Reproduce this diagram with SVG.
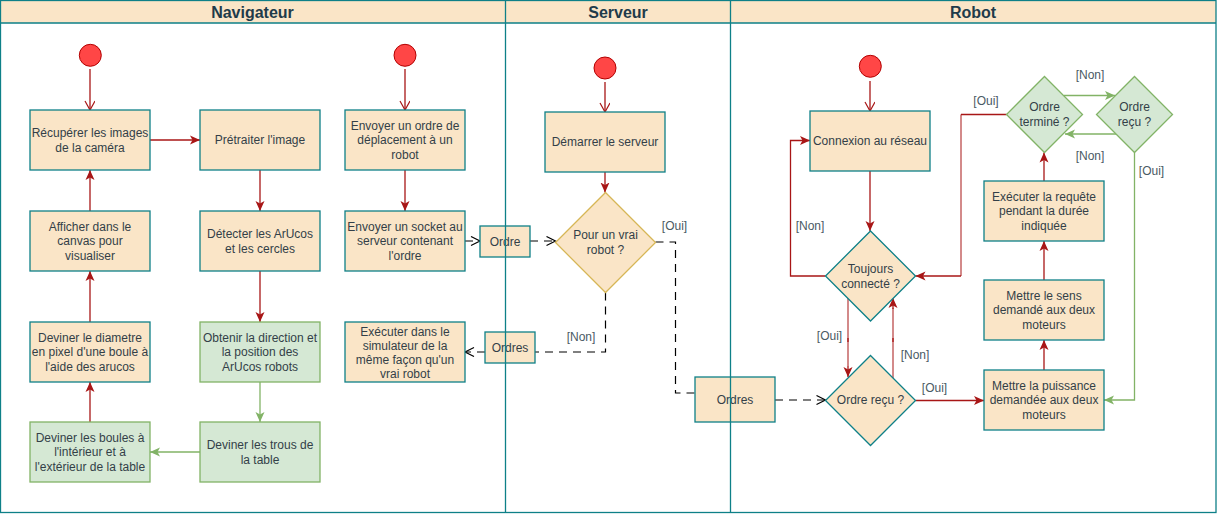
<svg xmlns="http://www.w3.org/2000/svg" width="1218" height="514" viewBox="0 0 1218 514">
<style>
text{font-family:"Liberation Sans",Arial,sans-serif;font-size:12px;fill:#333f48;text-anchor:middle}
.hd{font-size:16px;font-weight:bold;fill:#1f3b4a}
.lb{fill:#4a5a64}
.n{fill:#fae5c7;stroke:#0e8088;stroke-width:1.3}
.g{fill:#d5e8d4;stroke:#82b366;stroke-width:1.3}
.y{fill:#fae5c7;stroke:#d6b656;stroke-width:1.3}
.st{fill:#ff4646;stroke:#b20000;stroke-width:1}
.r{fill:none;stroke:#a81616;stroke-width:1.3}
.rl{fill:none;stroke:#a81616;stroke-opacity:0.5;stroke-width:2}
.gr{fill:none;stroke:#82b366;stroke-width:1.3}
.d{fill:none;stroke:#000;stroke-width:1.2;stroke-dasharray:8 6}
.lane{fill:none;stroke:#0e8088;stroke-width:1.3}
</style>
<defs>
<marker id="aR" markerUnits="userSpaceOnUse" markerWidth="12" markerHeight="12" refX="10" refY="5" orient="auto"><path d="M0,0.5 L10,5 L0,9.5 L2.5,5 z" fill="#a81616"/></marker>
<marker id="aG" markerUnits="userSpaceOnUse" markerWidth="12" markerHeight="12" refX="10" refY="5" orient="auto"><path d="M0,0.5 L10,5 L0,9.5 L2.5,5 z" fill="#82b366"/></marker>
<marker id="oR" markerUnits="userSpaceOnUse" markerWidth="12" markerHeight="12" refX="10" refY="5" orient="auto"><path d="M1,0 L10,5 L1,10" fill="none" stroke="#a81616" stroke-width="1.2"/></marker>
<marker id="oK" markerUnits="userSpaceOnUse" markerWidth="12" markerHeight="12" refX="10" refY="5" orient="auto"><path d="M1,0.5 L10,5 L1,9.5" fill="none" stroke="#000" stroke-width="1.2"/></marker>
</defs>
<rect width="1218" height="514" fill="#fff"/>
<g id="lanes-bg">
<rect x="0.5" y="0.5" width="1215.5" height="22.5" fill="#fae5c7"/>
<text class="hd" x="252.5" y="17.5">Navigateur</text>
<text class="hd" x="618" y="17.5">Serveur</text>
<text class="hd" x="973" y="17.5">Robot</text>
</g>
<g id="connectors">
<path class="r" d="M90,69 V110" marker-end="url(#oR)"/>
<path class="r" d="M150,140 H200" marker-end="url(#aR)"/>
<path class="r" d="M260,170 V211" marker-end="url(#aR)"/>
<path class="r" d="M260,271 V322" marker-end="url(#aR)"/>
<path class="gr" d="M260,382 V422" marker-end="url(#aG)"/>
<path class="gr" d="M200,452 H150" marker-end="url(#aG)"/>
<path class="r" d="M90,422 V382" marker-end="url(#aR)"/>
<path class="r" d="M90,322 V271" marker-end="url(#aR)"/>
<path class="r" d="M90,211 V170" marker-end="url(#aR)"/>
<path class="r" d="M405,69 V110" marker-end="url(#oR)"/>
<path class="r" d="M405,170 V211" marker-end="url(#aR)"/>
<path class="d" d="M465,241 H480" marker-end="url(#oK)"/>
<path class="d" d="M530,241 H555.5" marker-end="url(#oK)"/>
<path class="d" d="M655.5,242 H675.5 V393 H695"/>
<path class="d" d="M605.5,292.5 V352 H535"/>
<path class="d" d="M485,352 H465" marker-end="url(#oK)"/>
<path class="r" d="M605,82 V112" marker-end="url(#oR)"/>
<path class="r" d="M605,172 V192.5" marker-end="url(#aR)"/>
<path class="r" d="M870,81 V111" marker-end="url(#oR)"/>
<path class="r" d="M870,171 V231" marker-end="url(#aR)"/>
<path class="r" d="M825.5,276 H790.5 V140.5 H810" marker-end="url(#aR)"/>
<path class="rl" d="M848,298 V366"/>
<path class="r" d="M848,366 V377" marker-end="url(#aR)"/>
<path class="rl" d="M893,378 V308"/>
<path class="r" d="M893,309 V298" marker-end="url(#aR)"/>
<path class="r" d="M848,338 V342 M893,338 V342" stroke-width="2"/>
<path class="d" d="M775,400 H825.5" marker-end="url(#oK)"/>
<path class="r" d="M915.5,400.5 H984" marker-end="url(#aR)"/>
<path class="r" d="M1044,370 V340" marker-end="url(#aR)"/>
<path class="r" d="M1044,280 V241" marker-end="url(#aR)"/>
<path class="r" d="M1044,181 V152.5" marker-end="url(#aR)"/>
<path class="r" d="M1006.5,114.5 H961"/>
<path class="rl" d="M961,114.5 V276"/>
<path class="r" d="M961,276 H915.5" marker-end="url(#aR)"/>
<path class="gr" d="M1064,95.5 H1115" marker-end="url(#aG)"/>
<path class="gr" d="M1116,134 H1065" marker-end="url(#aG)"/>
<path class="gr" d="M1134.5,152.5 V400 H1104" marker-end="url(#aG)"/>
<text class="lb" x="674.5" y="230">[Oui]</text>
<text class="lb" x="581" y="341">[Non]</text>
<text class="lb" x="810" y="230">[Non]</text>
<text class="lb" x="829.5" y="340">[Oui]</text>
<text class="lb" x="915" y="359">[Non]</text>
<text class="lb" x="934.5" y="391.5">[Oui]</text>
<text class="lb" x="986" y="105.3">[Oui]</text>
<text class="lb" x="1090" y="79.3">[Non]</text>
<text class="lb" x="1090" y="160">[Non]</text>
<text class="lb" x="1151.5" y="175">[Oui]</text>
</g>
<g id="start-nav1"><circle class="st" cx="90.3" cy="55.3" r="11"/></g>
<g id="start-nav2"><circle class="st" cx="405" cy="55.3" r="11"/></g>
<g id="start-srv"><circle class="st" cx="605" cy="68" r="11"/></g>
<g id="start-rob"><circle class="st" cx="870.3" cy="66.3" r="11"/></g>
<g id="recuperer"><rect class="n" x="30" y="110" width="120" height="60"/><text x="90" y="137.1">Récupérer les images<tspan x="90" dy="14.4">de la caméra</tspan></text></g>
<g id="pretraiter"><rect class="n" x="200" y="110" width="120" height="60"/><text x="260" y="144.3">Prétraiter l'image</text></g>
<g id="envoyer-ordre"><rect class="n" x="345" y="110" width="120" height="60"/><text x="405" y="129.9">Envoyer un ordre de<tspan x="405" dy="14.4">déplacement à un</tspan><tspan x="405" dy="14.4">robot</tspan></text></g>
<g id="afficher"><rect class="n" x="30" y="211" width="120" height="60"/><text x="90" y="230.9">Afficher dans le<tspan x="90" dy="14.4">canvas pour</tspan><tspan x="90" dy="14.4">visualiser</tspan></text></g>
<g id="detecter"><rect class="n" x="200" y="211" width="120" height="60"/><text x="260" y="238.1">Détecter les ArUcos<tspan x="260" dy="14.4">et les cercles</tspan></text></g>
<g id="envoyer-socket"><rect class="n" x="345" y="211" width="120" height="60"/><text x="405" y="230.9">Envoyer un socket au<tspan x="405" dy="14.4">serveur contenant</tspan><tspan x="405" dy="14.4">l'ordre</tspan></text></g>
<g id="deviner-diametre"><rect class="n" x="30" y="322" width="120" height="60"/><text x="90" y="341.9">Deviner le diametre<tspan x="90" dy="14.4">en pixel d'une boule à</tspan><tspan x="90" dy="14.4">l'aide des arucos</tspan></text></g>
<g id="obtenir"><rect class="g" x="200" y="322" width="120" height="60"/><text x="260" y="341.9">Obtenir la direction et<tspan x="260" dy="14.4">la position des</tspan><tspan x="260" dy="14.4">ArUcos robots</tspan></text></g>
<g id="executer-simu"><rect class="n" x="345" y="322" width="120" height="60"/><text x="405" y="335.5">Exécuter dans le<tspan x="405" dy="14">simulateur de la</tspan><tspan x="405" dy="14">même façon qu'un</tspan><tspan x="405" dy="14">vrai robot</tspan></text></g>
<g id="deviner-boules"><rect class="g" x="30" y="422" width="120" height="60"/><text x="90" y="441.9">Deviner les boules à<tspan x="90" dy="14.4">l'intérieur et à</tspan><tspan x="90" dy="14.4">l'extérieur de la table</tspan></text></g>
<g id="deviner-trous"><rect class="g" x="200" y="422" width="120" height="60"/><text x="260" y="449.1">Deviner les trous de<tspan x="260" dy="14.4">la table</tspan></text></g>
<g id="ordre"><rect class="n" x="480" y="226" width="50" height="31"/><text x="505" y="245.5">Ordre</text></g>
<g id="ordres1"><rect class="n" x="485" y="332" width="50" height="31"/><text x="510" y="351.8">Ordres</text></g>
<g id="ordres2"><rect class="n" x="695" y="377" width="80" height="45"/><text x="735" y="403.8">Ordres</text></g>
<g id="demarrer"><rect class="n" x="545" y="112" width="120" height="60"/><text x="605" y="146.3">Démarrer le serveur</text></g>
<g id="vrai-robot"><path class="y" d="M605.5,192.5 L655.5,242.5 L605.5,292.5 L555.5,242.5 Z"/><text x="605.5" y="238.6">Pour un vrai<tspan x="605.5" dy="15">robot ?</tspan></text></g>
<g id="connexion"><rect class="n" x="810" y="111" width="120" height="60"/><text x="870" y="145.3">Connexion au réseau</text></g>
<g id="toujours"><path class="n" d="M870.5,231 L915.5,276 L870.5,321 L825.5,276 Z"/><text x="870.5" y="272.6">Toujours<tspan x="870.5" dy="15">connecté ?</tspan></text></g>
<g id="ordre-recu"><path class="n" d="M870.5,355.5 L915.5,400.5 L870.5,445.5 L825.5,400.5 Z"/><text x="870.5" y="403.6">Ordre reçu ?</text></g>
<g id="puissance"><rect class="n" x="984" y="370" width="120" height="60"/><text x="1044" y="389.9">Mettre la puissance<tspan x="1044" dy="14.4">demandée aux deux</tspan><tspan x="1044" dy="14.4">moteurs</tspan></text></g>
<g id="sens"><rect class="n" x="984" y="280" width="120" height="60"/><text x="1044" y="299.9">Mettre le sens<tspan x="1044" dy="14.4">demandé aux deux</tspan><tspan x="1044" dy="14.4">moteurs</tspan></text></g>
<g id="executer-requete"><rect class="n" x="984" y="181" width="120" height="60"/><text x="1044" y="200.9">Exécuter la requête<tspan x="1044" dy="14.4">pendant la durée</tspan><tspan x="1044" dy="14.4">indiquée</tspan></text></g>
<g id="ordre-termine"><path class="g" d="M1044.5,76.5 L1082.5,114.5 L1044.5,152.5 L1006.5,114.5 Z"/><text x="1044.5" y="111">Ordre<tspan x="1044.5" dy="15">terminé ?</tspan></text></g>
<g id="ordre-recu2"><path class="g" d="M1134.5,76.5 L1172.5,114.5 L1134.5,152.5 L1096.5,114.5 Z"/><text x="1134.5" y="111">Ordre<tspan x="1134.5" dy="15">reçu ?</tspan></text></g>
<g id="lanes">
<rect class="lane" x="0.5" y="0.5" width="1215.5" height="512"/>
<path class="lane" d="M0.5,23 H1216 M505.5,0.5 V512.5 M730.5,0.5 V512.5"/>
</g>
</svg>
